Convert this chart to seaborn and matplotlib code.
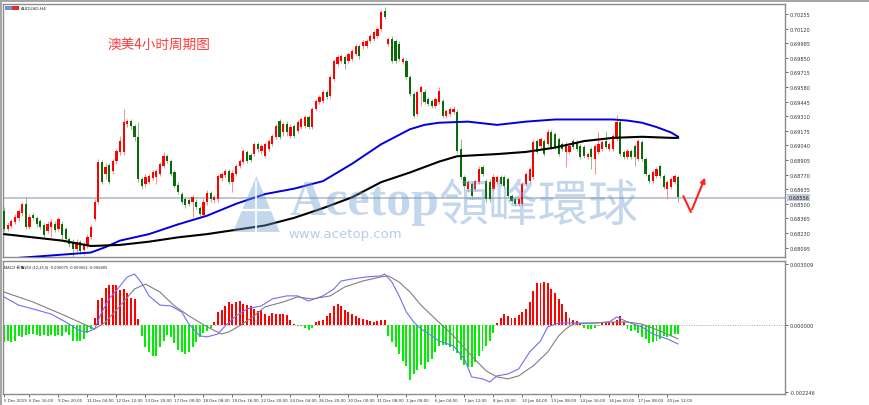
import numpy as np
import pandas as pd
import matplotlib
matplotlib.use('Agg')
import matplotlib.pyplot as plt
import seaborn as sns
from matplotlib.patches import Polygon, Rectangle

# --- AUDUSD H4 candles ---
open_ = [0.68434, 0.68267, 0.68295, 0.68332, 0.68369, 0.68415, 0.68498, 0.68286, 0.68397, 0.68369,
         0.68341, 0.68304, 0.68249, 0.68286, 0.68313, 0.68267, 0.68313, 0.68267, 0.68175, 0.68147,
         0.68082, 0.68147, 0.68073, 0.68110, 0.68193, 0.68360, 0.68517, 0.68887, 0.68775, 0.68859,
         0.68803, 0.68896, 0.68979, 0.68979, 0.69238, 0.69266, 0.69220, 0.69118, 0.68729, 0.68683,
         0.68702, 0.68738, 0.68747, 0.68775, 0.68849, 0.68942, 0.68896, 0.68794, 0.68674, 0.68591,
         0.68545, 0.68535, 0.68517, 0.68517, 0.68461, 0.68397, 0.68517, 0.68600, 0.68535, 0.68545,
         0.68738, 0.68766, 0.68803, 0.68702, 0.68775, 0.68849, 0.68887, 0.68979, 0.68951, 0.68961,
         0.69053, 0.68989, 0.68942, 0.69007, 0.69053, 0.69118, 0.69266, 0.69164, 0.69238, 0.69127,
         0.69220, 0.69173, 0.69210, 0.69220, 0.69303, 0.69210, 0.69377, 0.69442, 0.69451, 0.69534,
         0.69497, 0.69654, 0.69793, 0.69821, 0.69858, 0.69821, 0.69839, 0.69885, 0.69959, 0.69959,
         0.69959, 0.70006, 0.70024, 0.70052, 0.70117, 0.70283, 0.69978, 0.70024, 0.70006, 0.69978,
         0.69811, 0.69821, 0.69673, 0.69516, 0.69331, 0.69534, 0.69534, 0.69469, 0.69451, 0.69405,
         0.69442, 0.69451, 0.69312, 0.69331, 0.69349, 0.69349, 0.69007, 0.68747, 0.68637, 0.68683,
         0.68637, 0.68702, 0.68840, 0.68711, 0.68702, 0.68637, 0.68702, 0.68747, 0.68747, 0.68729,
         0.68572, 0.68545, 0.68498, 0.68498, 0.68683, 0.68711, 0.68747, 0.69081, 0.69035, 0.69081,
         0.69053, 0.69164, 0.69146, 0.69099, 0.69053, 0.68979, 0.68979, 0.69081, 0.69072, 0.69035,
         0.69025, 0.68933, 0.69007, 0.68914, 0.68979, 0.69007, 0.69081, 0.69007, 0.69007, 0.69099,
         0.69257, 0.68979, 0.68933, 0.68989, 0.69035, 0.68914, 0.69072, 0.68914, 0.68766, 0.68711,
         0.68757, 0.68849, 0.68757, 0.68637, 0.68656, 0.68702, 0.68747]
high = [0.68471, 0.68332, 0.68360, 0.68406, 0.68452, 0.68517, 0.68563, 0.68406, 0.68415, 0.68387,
        0.68360, 0.68323, 0.68341, 0.68360, 0.68341, 0.68378, 0.68341, 0.68286, 0.68193, 0.68175,
        0.68175, 0.68165, 0.68147, 0.68221, 0.68313, 0.68545, 0.68914, 0.68905, 0.68877, 0.68877,
        0.68914, 0.69007, 0.69127, 0.69377, 0.69284, 0.69284, 0.69238, 0.69257, 0.68747, 0.68775,
        0.68775, 0.68812, 0.68822, 0.68887, 0.68979, 0.68961, 0.68914, 0.68812, 0.68702, 0.68609,
        0.68563, 0.68554, 0.68582, 0.68545, 0.68480, 0.68545, 0.68628, 0.68619, 0.68582, 0.68775,
        0.68794, 0.68822, 0.68822, 0.68812, 0.68868, 0.68914, 0.69007, 0.68998, 0.68970, 0.69072,
        0.69072, 0.69053, 0.69072, 0.69099, 0.69146, 0.69238, 0.69284, 0.69257, 0.69266, 0.69238,
        0.69238, 0.69275, 0.69303, 0.69321, 0.69321, 0.69395, 0.69469, 0.69506, 0.69553, 0.69553,
        0.69691, 0.69839, 0.69876, 0.69885, 0.69876, 0.69904, 0.69932, 0.69978, 0.69978, 0.70015,
        0.70024, 0.70070, 0.70107, 0.70135, 0.70292, 0.70320, 0.70043, 0.70052, 0.70024, 0.70006,
        0.69858, 0.69839, 0.69691, 0.69534, 0.69553, 0.69599, 0.69562, 0.69488, 0.69469, 0.69488,
        0.69580, 0.69469, 0.69377, 0.69395, 0.69405, 0.69377, 0.69099, 0.68766, 0.68720, 0.68702,
        0.68729, 0.68849, 0.68859, 0.68729, 0.68729, 0.68775, 0.68766, 0.68766, 0.68766, 0.68747,
        0.68591, 0.68563, 0.68563, 0.68702, 0.68794, 0.68840, 0.69090, 0.69099, 0.69118, 0.69099,
        0.69192, 0.69183, 0.69164, 0.69118, 0.69072, 0.69072, 0.69053, 0.69099, 0.69090, 0.69053,
        0.69044, 0.68979, 0.69025, 0.69053, 0.69164, 0.69090, 0.69173, 0.69072, 0.69146, 0.69321,
        0.69275, 0.68998, 0.69007, 0.69007, 0.69053, 0.69099, 0.69090, 0.68933, 0.68784, 0.68812,
        0.68840, 0.68868, 0.68775, 0.68720, 0.68747, 0.68775, 0.68766]
low = [0.68249, 0.68249, 0.68276, 0.68313, 0.68341, 0.68387, 0.68267, 0.68267, 0.68350, 0.68286,
       0.68267, 0.68193, 0.68230, 0.68193, 0.68239, 0.68249, 0.68175, 0.68156, 0.68101, 0.67990,
       0.68054, 0.68036, 0.68027, 0.68091, 0.68175, 0.68341, 0.68498, 0.68683, 0.68729, 0.68683,
       0.68775, 0.68868, 0.68951, 0.68951, 0.69210, 0.69192, 0.69081, 0.68702, 0.68637, 0.68656,
       0.68683, 0.68720, 0.68683, 0.68757, 0.68831, 0.68877, 0.68757, 0.68646, 0.68591, 0.68498,
       0.68461, 0.68480, 0.68378, 0.68452, 0.68387, 0.68378, 0.68489, 0.68517, 0.68508, 0.68517,
       0.68711, 0.68738, 0.68683, 0.68609, 0.68757, 0.68831, 0.68868, 0.68877, 0.68887, 0.68942,
       0.68979, 0.68961, 0.68924, 0.68989, 0.69035, 0.69099, 0.69099, 0.69127, 0.69127, 0.69109,
       0.69109, 0.69155, 0.69192, 0.69201, 0.69192, 0.69192, 0.69358, 0.69423, 0.69432, 0.69469,
       0.69479, 0.69636, 0.69774, 0.69802, 0.69747, 0.69802, 0.69821, 0.69867, 0.69839, 0.69932,
       0.69941, 0.69987, 0.70006, 0.70033, 0.70098, 0.70209, 0.69959, 0.69802, 0.69802, 0.69821,
       0.69793, 0.69654, 0.69497, 0.69294, 0.69312, 0.69405, 0.69423, 0.69405, 0.69386, 0.69386,
       0.69423, 0.69294, 0.69294, 0.69312, 0.69331, 0.68970, 0.68729, 0.68637, 0.68609, 0.68545,
       0.68619, 0.68683, 0.68757, 0.68517, 0.68517, 0.68619, 0.68683, 0.68665, 0.68646, 0.68554,
       0.68508, 0.68480, 0.68480, 0.68480, 0.68665, 0.68693, 0.68729, 0.68961, 0.69016, 0.68942,
       0.69035, 0.69007, 0.69007, 0.68942, 0.68989, 0.68840, 0.68961, 0.69007, 0.68989, 0.68914,
       0.68924, 0.68914, 0.68822, 0.68775, 0.68961, 0.68989, 0.69007, 0.68989, 0.68989, 0.69081,
       0.68942, 0.68914, 0.68914, 0.68914, 0.68849, 0.68896, 0.68896, 0.68757, 0.68693, 0.68693,
       0.68738, 0.68738, 0.68637, 0.68545, 0.68637, 0.68683, 0.68517]
close = [0.68267, 0.68304, 0.68341, 0.68378, 0.68434, 0.68498, 0.68286, 0.68378, 0.68369, 0.68313,
         0.68286, 0.68212, 0.68313, 0.68332, 0.68258, 0.68360, 0.68212, 0.68175, 0.68128, 0.68082,
         0.68147, 0.68064, 0.68119, 0.68193, 0.68286, 0.68517, 0.68887, 0.68702, 0.68840, 0.68702,
         0.68896, 0.68989, 0.69081, 0.69257, 0.69266, 0.69220, 0.69118, 0.68729, 0.68665, 0.68747,
         0.68757, 0.68794, 0.68803, 0.68868, 0.68942, 0.68896, 0.68775, 0.68665, 0.68609, 0.68517,
         0.68489, 0.68498, 0.68563, 0.68471, 0.68406, 0.68517, 0.68600, 0.68545, 0.68563, 0.68757,
         0.68775, 0.68803, 0.68702, 0.68784, 0.68849, 0.68896, 0.68989, 0.68896, 0.68905, 0.69053,
         0.69007, 0.69035, 0.69053, 0.69081, 0.69127, 0.69220, 0.69118, 0.69238, 0.69164, 0.69210,
         0.69127, 0.69257, 0.69284, 0.69303, 0.69210, 0.69377, 0.69451, 0.69488, 0.69534, 0.69488,
         0.69673, 0.69821, 0.69858, 0.69867, 0.69793, 0.69885, 0.69913, 0.69959, 0.69867, 0.69996,
         0.70006, 0.70052, 0.70089, 0.70117, 0.70274, 0.70228, 0.70024, 0.69821, 0.69821, 0.69839,
         0.69839, 0.69673, 0.69516, 0.69312, 0.69534, 0.69580, 0.69442, 0.69423, 0.69405, 0.69469,
         0.69543, 0.69312, 0.69358, 0.69377, 0.69377, 0.68989, 0.68747, 0.68665, 0.68702, 0.68572,
         0.68711, 0.68822, 0.68775, 0.68545, 0.68545, 0.68747, 0.68747, 0.68683, 0.68665, 0.68572,
         0.68526, 0.68498, 0.68545, 0.68683, 0.68775, 0.68822, 0.69072, 0.68979, 0.69099, 0.68961,
         0.69164, 0.69025, 0.69025, 0.68961, 0.69007, 0.69053, 0.69035, 0.69025, 0.69007, 0.68933,
         0.68942, 0.68961, 0.68933, 0.69035, 0.69053, 0.69072, 0.69025, 0.69053, 0.69127, 0.69257,
         0.68961, 0.68933, 0.68989, 0.68933, 0.68933, 0.69081, 0.68914, 0.68775, 0.68711, 0.68794,
         0.68822, 0.68757, 0.68656, 0.68702, 0.68729, 0.68757, 0.68563]
bid_price = 0.68556

# moving averages, sampled along the bars
blue_ma_bars = [0, 8, 16, 24, 28, 32, 40, 48, 56, 64, 72, 80, 88, 96, 100, 104, 108, 112, 116,
                120, 128, 136, 144, 152, 160, 168, 172, 176, 180, 184, 186]
blue_ma = [0.6799, 0.6801, 0.6803, 0.6805, 0.6810, 0.6816, 0.6822, 0.6831, 0.6839, 0.6850,
           0.6859, 0.6864, 0.6871, 0.6887, 0.6896, 0.6905, 0.6912, 0.6919, 0.6923, 0.6925,
           0.6926, 0.6923, 0.6926, 0.6928, 0.6928, 0.6928, 0.6927, 0.6925, 0.6921, 0.6916, 0.6912]
black_ma_bars = [0, 8, 16, 24, 32, 40, 48, 56, 64, 72, 80, 88, 96, 104, 112, 120, 125, 136, 144,
                 152, 160, 168, 176, 184, 186]
black_ma = [0.6822, 0.6819, 0.6816, 0.6811, 0.6812, 0.6815, 0.6819, 0.6822, 0.6826, 0.6830, 0.6837,
            0.6846, 0.6856, 0.6870, 0.6879, 0.6889, 0.6894, 0.6896, 0.6898, 0.6902, 0.6908, 0.6911,
            0.6912, 0.6911, 0.6911]

# MACD pane, in units of 1e-4
macd_hist = [-8.3, -7.4, -8.3, -7.4, -5.4, -5.9, -4.9, -4.4, -4.4, -4.9,
             -5.4, -4.9, -5.4, -4.9, -5.4, -4.9, -5.4, -3.4, -4.9, -7.4,
             -7.4, -7.4, -6.4, -3.9, -1.5, 3.9, 12.7, 13.7, 18.6, 19.6,
             19.6, 19.6, 17.2, 18.1, 15.7, 13.7, 13.2, 3.4, -5.4, -10.8,
             -13.2, -15.2, -15.2, -10.8, -7.8, -4.9, -5.9, -8.8, -11.8, -13.2,
             -14.2, -13.2, -10.8, -8.3, -5.9, -3.9, -2.5, -1.0, 1.5, 6.4,
             7.8, 9.3, 11.3, 10.3, 11.3, 11.8, 10.3, 9.8, 9.3, 8.3,
             6.9, 7.4, 5.4, 4.4, 5.9, 5.4, 5.4, 5.4, 4.9, 2.9,
             0.5, -0.5, -0.5, -1.0, -2.0, -1.0, 1.5, 2.0, 2.9, 4.4,
             5.9, 9.3, 10.3, 9.3, 7.8, 6.4, 5.4, 4.4, 3.9, 3.4,
             2.5, 2.0, 1.5, 2.0, 2.5, 2.5, -5.4, -8.3, -10.8, -14.2,
             -17.6, -20.1, -26.5, -24.0, -21.6, -19.6, -21.1, -18.1, -16.2, -13.2,
             -10.3, -9.8, -9.8, -10.8, -12.3, -13.7, -16.7, -19.6, -20.6, -20.6,
             -18.1, -15.2, -12.7, -10.3, -7.4, -3.9, 1.0, 3.9, 5.4, 4.4,
             3.9, 3.9, 4.9, 6.4, 8.3, 11.3, 16.7, 20.6, 20.6, 21.1,
             20.6, 18.1, 15.7, 13.2, 10.3, 6.4, 3.9, 2.9, 2.0, 1.0,
             -1.0, -1.5, -1.5, -1.0, -0.5, 1.0, 1.0, 1.5, 1.5, 2.5,
             4.4, 1.5, -1.5, -2.5, -2.0, -3.9, -5.9, -6.4, -8.8, -8.3,
             -7.4, -6.4, -5.4, -5.9, -5.4, -4.4, -4.4]
dif_bars = [0, 4, 8, 13, 17, 21, 23, 25, 27, 29, 32, 34, 36, 38, 40, 43, 46, 49, 51, 54, 56, 59,
            61, 64, 67, 71, 74, 78, 81, 84, 88, 91, 93, 96, 100, 104, 105, 107, 109, 111, 113, 115,
            118, 120, 124, 127, 129, 132, 134, 136, 139, 142, 145, 148, 150, 153, 158, 163, 167,
            169, 172, 176, 179, 183, 186]
dif = [14.0, 10.0, 8.1, 5.6, 1.7, -2.7, -3.2, -1.7, 6.6, 13.0, 19.4, 23.8, 25.2, 20.8, 14.5,
       10.0, 9.6, 6.6, 0.7, -5.1, -5.6, -4.2, -0.2, 4.7, 8.1, 9.6, 13.0, 14.5, 14.5, 12.0, 14.5,
       17.9, 21.8, 22.8, 23.8, 24.3, 25.2, 21.3, 14.5, 6.6, 1.7, -1.7, -5.1, -7.6, -10.0, -16.4,
       -25.2, -26.2, -27.7, -24.7, -23.8, -21.3, -13.0, -7.6, -0.7, 1.2, 1.2, 1.2, 1.7, 4.2, 1.7,
       -0.7, -4.2, -6.6, -9.1]
dea_bars = [0, 8, 17, 23, 25, 28, 32, 36, 39, 43, 47, 51, 56, 60, 62, 65, 69, 72, 77, 81, 85, 90,
            94, 99, 104, 106, 109, 112, 115, 119, 124, 129, 133, 136, 139, 142, 146, 150, 153, 155,
            157, 163, 167, 172, 176, 181, 186]
dea = [16.4, 11.5, 4.7, -0.2, -1.7, 1.7, 9.6, 17.9, 20.3, 16.4, 9.6, 4.7, -0.7, -4.2, -3.2, -0.2,
       4.7, 9.1, 11.5, 14.0, 13.0, 14.5, 18.9, 21.8, 23.8, 24.3, 21.3, 16.4, 10.0, 3.2, -5.1, -14.9,
       -22.3, -25.2, -26.2, -24.7, -19.8, -13.0, -5.1, -1.7, 0.7, 1.2, 1.7, 1.7, 0.7, -2.7, -6.6]

# hand-drawn red forecast arrow
arrow_bars = [187.4, 189.5, 193.7]
arrow_prices = [0.68572, 0.68424, 0.68766]

price_ticks = [0.70255, 0.70120, 0.69985, 0.69850, 0.69715, 0.69580, 0.69445, 0.69310, 0.69175,
               0.69040, 0.68905, 0.68770, 0.68635, 0.68500, 0.68365, 0.68230, 0.68095]
time_labels = ["5 Dec 2019", "6 Dec 16:00", "9 Dec 20:00", "11 Dec 04:00", "12 Dec 12:00",
               "13 Dec 20:00", "17 Dec 00:00", "18 Dec 08:00", "19 Dec 16:00", "22 Dec 20:00",
               "24 Dec 04:00", "26 Dec 20:00", "30 Dec 00:00", "31 Dec 08:00", "3 Jan 00:00",
               "6 Jan 04:00", "7 Jan 12:00", "8 Jan 20:00", "10 Jan 04:00", "13 Jan 08:00",
               "14 Jan 16:00", "16 Jan 00:00", "17 Jan 08:00", "20 Jan 12:00"]

sns.set_theme(style="white")
plt.rcParams['font.family'] = ['DejaVu Sans', 'Noto Sans CJK SC']
plt.rcParams['axes.unicode_minus'] = False
CJK = ['Noto Sans CJK SC', 'DejaVu Sans']

W, H = 870, 406
fig = plt.figure(figsize=(W / 100, H / 100), dpi=100)
fig.patch.set_facecolor('white')
ax = fig.add_axes([3 / W, 1 - 258 / H, 782 / W, 253 / H])
ax2 = fig.add_axes([3 / W, 1 - 395 / H, 782 / W, 133 / H])
# window chrome: grey strip at the top and left
fig.add_artist(Rectangle((0, 1 - 3 / H), 1, 3 / H, transform=fig.transFigure,
                         color='#a6a6a6', lw=0))
fig.add_artist(Rectangle((0, 0), 2 / W, 1, transform=fig.transFigure, color='#a6a6a6', lw=0))

df = pd.DataFrame({'open': open_, 'high': high, 'low': low, 'close': close})
df['bar'] = np.arange(len(df))
up = df['close'] >= df['open']
dn = ~up

# --- candles ---
ax.axhline(bid_price, color='#b7c2ce', lw=1.3, zorder=1)
ax.vlines(df.bar[up], df.low[up], df.high[up], color='#ff8a8a', lw=0.7, zorder=3)
ax.vlines(df.bar[dn], df.low[dn], df.high[dn], color='#86c286', lw=0.7, zorder=3)
ax.bar(df.bar[up], (df.close - df.open)[up], bottom=df.open[up], width=0.62,
       color='#ff0000', lw=0, zorder=4)
ax.bar(df.bar[dn], (df.close - df.open)[dn], bottom=df.open[dn], width=0.62,
       color='#0b6b0b', lw=0, zorder=4)

sns.lineplot(data=pd.DataFrame({'bar': blue_ma_bars, 'ma': blue_ma}), x='bar', y='ma',
             ax=ax, color='#0000dc', lw=1.4, legend=False, zorder=5)
sns.lineplot(data=pd.DataFrame({'bar': black_ma_bars, 'ma': black_ma}), x='bar', y='ma',
             ax=ax, color='#000000', lw=1.5, legend=False, zorder=5)

# forecast arrow
ax.plot(arrow_bars[:2], arrow_prices[:2], color='#ff2222', lw=1.5, zorder=7,
        solid_capstyle='round')
ax.annotate('', xy=(arrow_bars[2], arrow_prices[2]), xytext=(arrow_bars[1], arrow_prices[1]),
            arrowprops=dict(arrowstyle='-|>', color='#ff2222', lw=1.5, mutation_scale=7),
            zorder=7)

# watermark
wm = '#6b9bd1'
ax.text(0.367, 0.170, 'Acetop', transform=ax.transAxes, fontsize=36, fontweight='bold',
        family='Liberation Serif', color=wm, alpha=0.4, va='baseline', ha='left', zorder=6)
ax.text(0.557, 0.202, '領峰環球', transform=ax.transAxes, fontsize=36,
        family=['Noto Sans CJK TC', 'DejaVu Sans'], color=wm, alpha=0.4, va='center',
        ha='left', zorder=6)
ax.text(0.365, 0.094, 'www.acetop.com', transform=ax.transAxes, fontsize=9.5, color=wm,
        alpha=0.5, va='center', ha='left', zorder=6)
ax.add_patch(Polygon([(0.294, 0.099), (0.324, 0.320), (0.354, 0.099)], closed=True,
                     transform=ax.transAxes, color=wm, alpha=0.4, lw=0, zorder=6))
ax.plot([0.324, 0.324], [0.30, 0.099], transform=ax.transAxes, color='white', lw=1.2, zorder=6)
ax.plot([0.300, 0.348], [0.185, 0.185], transform=ax.transAxes, color='white', lw=1.6, zorder=6)

# labels
ax.text(0.133, 0.842, '澳美4小时周期图', transform=ax.transAxes, fontsize=9.8,
        family=CJK, color='#ff3b3b', va='center', ha='left')
ax.add_patch(Rectangle((0.003, 0.978), 0.008, 0.014, transform=ax.transAxes,
                       color='#7b8fd6', lw=0))
ax.add_patch(Rectangle((0.012, 0.978), 0.008, 0.014, transform=ax.transAxes,
                       color='#d83030', lw=0))
ax.text(0.023, 0.985, 'AUDUSD,H4', transform=ax.transAxes, fontsize=3.2, color='#222222',
        va='center', ha='left')

# --- MACD pane ---
ax2.axhline(0, color='#a8a8a8', lw=0.7, ls=(0, (1, 1.5)), zorder=1)
hist_colors = ['#ff0000' if v > 0 else '#00ee00' for v in macd_hist]
ax2.bar(df.bar, macd_hist, width=0.55, color=hist_colors, lw=0, zorder=2)
sns.lineplot(data=pd.DataFrame({'bar': dif_bars, 'v': dif}), x='bar', y='v', ax=ax2,
             color='#6f6ff5', lw=0.8, legend=False, zorder=3)
sns.lineplot(data=pd.DataFrame({'bar': dea_bars, 'v': dea}), x='bar', y='v', ax=ax2,
             color='#808080', lw=0.8, legend=False, zorder=3)
ax2.text(0.001, 0.955, 'MACD-彩色V10 (12,26,9) -0.000079 -0.000652 -0.000405',
         transform=ax2.transAxes, fontsize=2.9, family=CJK, color='#222222',
         va='center', ha='left')

# --- axes styling ---
xlim = (-0.28, 215.45)
for a in (ax, ax2):
    a.set_xlim(*xlim)
    a.set_xlabel('')
    a.set_ylabel('')
    a.grid(False)
    a.yaxis.tick_right()
    for s in a.spines.values():
        s.set_color('#8c8c8c')
        s.set_linewidth(1.0)
    a.tick_params(axis='y', labelsize=3.6, length=2.5, width=0.5, pad=1,
                  colors='#333333', direction='out')

ax.set_ylim(0.680083, 0.703478)
ax.set_yticks(price_ticks)
ax.set_yticklabels([f'{p:.5f}' for p in price_ticks])
ax.set_xticks([])
ax.text(1.004, bid_price, f'{bid_price:.5f}', transform=ax.get_yaxis_transform(),
        fontsize=3.6, color='#222222', va='center', ha='left',
        bbox=dict(facecolor='#c3cbdb', edgecolor='none', pad=0.6))

ax2.set_ylim(-33.6, 31.6)
ax2.set_yticks([30.09, 0, -32.4])
ax2.set_yticklabels(['0.003009', '0.000000', '-0.002246'])
ax2.set_xticks([0] + list(range(7, 184, 8)))
ax2.set_xticklabels(time_labels, ha='left')
ax2.tick_params(axis='x', labelsize=2.9, length=2, width=0.5, pad=0.8, colors='#333333',
                bottom=True, direction='out')

fig.savefig('out.png', dpi=100)
